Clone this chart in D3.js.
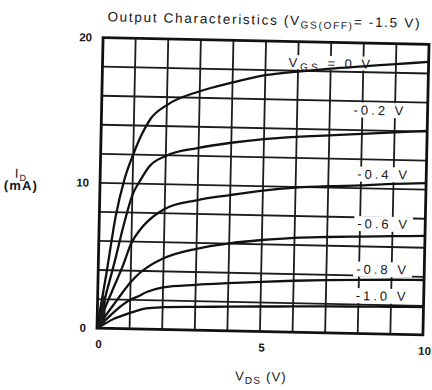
<!DOCTYPE html>
<html lang="en">
<head>
<meta charset="UTF-8" />
<title>Output Characteristics</title>
<script src="https://d3js.org/d3.v7.min.js"></script>
<style>
  body { margin: 0; background: #fff; }
  svg { display: block; }
  text { font-family: "Liberation Sans", Arial, sans-serif; fill: #151515; }
  .tick-label { font-size: 11.5px; font-weight: bold; }
  .curve-label { font-size: 13px; letter-spacing: 3px; }
  .title { font-size: 13.5px; letter-spacing: 1.7px; }
  .axis-title { font-size: 13px; letter-spacing: 1.2px; }
</style>
</head>
<body>
<div id="chart"></div>
<script>
// drain voltage samples (V)
const vds = [0, 0.25, 0.5, 0.75, 1, 1.25, 1.5, 2, 3, 4, 5, 6, 7, 8, 9, 10];

// drain current (mA) for each gate voltage
const idVgs0   = [0, 3.7, 7.7, 10.3, 12.0, 13.4, 14.45, 15.45, 16.45, 17.1, 17.65, 17.95, 18.2, 18.4, 18.6, 18.8];
const idVgsM02 = [0, 2.3, 4.6, 7.1, 9.2, 10.3, 11.2, 11.95, 12.55, 12.95, 13.25, 13.45, 13.6, 13.75, 13.9, 14.05];
const idVgsM04 = [0, 1.5, 2.9, 4.3, 5.9, 6.8, 7.45, 8.3, 8.95, 9.35, 9.7, 9.95, 10.1, 10.2, 10.35, 10.45];
const idVgsM06 = [0, 0.85, 1.65, 2.45, 3.2, 3.8, 4.25, 4.9, 5.6, 6.02, 6.3, 6.5, 6.6, 6.68, 6.75, 6.82];
const idVgsM08 = [0, 0.55, 1.1, 1.6, 2.0, 2.25, 2.55, 2.9, 3.12, 3.28, 3.42, 3.54, 3.63, 3.7, 3.75, 3.78];
const idVgsM10 = [0, 0.32, 0.65, 0.88, 1.09, 1.28, 1.42, 1.53, 1.6, 1.66, 1.72, 1.77, 1.82, 1.86, 1.89, 1.92];

const seriesIds = [idVgs0, idVgsM02, idVgsM04, idVgsM06, idVgsM08, idVgsM10];
const curveLabels = ["-0.2 V", "-0.4 V", "-0.6 V", "-0.8 V", "-1.0 V"];
const xTicks = [0, 5, 10];
const yTicks = [0, 10, 20];

const width = 432, height = 390;
const plotLeft = 100, plotRight = 426, plotTop = 41, plotBottom = 331.5;

const svg = d3.select("#chart").append("svg")
  .attr("width", width)
  .attr("height", height);

// the scanned sheet sits slightly turned
const g = svg.append("g").attr("transform", "rotate(1.2, 262, 186)");

const x = d3.scaleLinear().domain([0, 10]).range([plotLeft, plotRight]);
const y = d3.scaleLinear().domain([0, 20]).range([plotBottom, plotTop]);

const gridG  = g.append("g");
const boxG   = g.append("g");
const curveG = g.append("g");
const textG  = g.append("g");

gridG.selectAll(".vgrid")
  .data(d3.range(1, 10))
  .join("line")
    .attr("x1", d => x(d)).attr("x2", d => x(d))
    .attr("y1", y(0)).attr("y2", y(20))
    .attr("stroke", "#1c1c1c").attr("stroke-width", 1.8);

gridG.selectAll(".hgrid")
  .data(d3.range(2, 20, 2))
  .join("line")
    .attr("x1", x(0)).attr("x2", x(10))
    .attr("y1", d => y(d)).attr("y2", d => y(d))
    .attr("stroke", "#1c1c1c").attr("stroke-width", 1.8);

gridG.append("rect")
  .attr("x", x(0)).attr("y", y(20))
  .attr("width", x(10) - x(0)).attr("height", y(0) - y(20))
  .attr("fill", "none").attr("stroke", "#111").attr("stroke-width", 2.8);

// curves
const line = d3.line()
  .x((d, i) => x(vds[i]))
  .y(d => y(d))
  .curve(d3.curveMonotoneX);

curveG.selectAll(".curve")
  .data(seriesIds)
  .join("path")
    .attr("d", line)
    .attr("fill", "none")
    .attr("stroke", "#111")
    .attr("stroke-width", 2.3);

// dark blob where the curves meet at the origin
svg.append("defs").append("clipPath").attr("id", "origin-clip")
  .append("rect")
    .attr("x", x(0) - 3).attr("y", y(2.2))
    .attr("width", x(0.3) - x(0) + 3).attr("height", y(0) - y(2.2) + 3);

const blob = d3.area()
  .x((d, i) => x(vds[i]))
  .y0((d, i) => y(idVgsM10[i]))
  .y1(d => y(d));

curveG.append("path")
  .attr("d", blob(idVgs0.slice(0, 2)))
  .attr("clip-path", "url(#origin-clip)")
  .attr("fill", "#1a1a1a");

// curve labels sit on white patches that cut the grid
function withBox(t, lx, ly, padX, below) {
  const w = t.node().getComputedTextLength();
  boxG.append("rect")
    .attr("x", lx - padX).attr("y", ly - 12)
    .attr("width", w + 2 * padX).attr("height", 12 + below)
    .attr("fill", "#ffffff");
}

const vgs0X = 286, vgs0Y = 66.5;
const vgs0Label = textG.append("text")
  .attr("class", "curve-label")
  .attr("x", vgs0X).attr("y", vgs0Y);
vgs0Label.append("tspan").text("V");
vgs0Label.append("tspan").attr("font-size", 10).attr("dy", 3).text("GS");
vgs0Label.append("tspan").attr("dy", -3).text(" = 0 V");
withBox(vgs0Label, vgs0X, vgs0Y, 2, 2);

const labelY = [112.5, 176.5, 226, 271.5, 298];
const labelX = [352, 357, 358, 358, 358];
curveLabels.forEach((s, i) => {
  const t = textG.append("text")
    .attr("class", "curve-label")
    .attr("x", labelX[i]).attr("y", labelY[i])
    .text(s);
  withBox(t, labelX[i], labelY[i], 3, 3);
});

// ticks
textG.selectAll(".ytick")
  .data(yTicks)
  .join("text")
    .attr("class", "tick-label")
    .attr("x", plotLeft - 11)
    .attr("y", d => y(d) + 1)
    .attr("text-anchor", "end")
    .attr("dominant-baseline", "middle")
    .text(d => d);

textG.selectAll(".xtick")
  .data(xTicks)
  .join("text")
    .attr("class", "tick-label")
    .attr("x", d => x(d) + 2)
    .attr("y", plotBottom + 20)
    .attr("text-anchor", "middle")
    .text(d => d);

// title
const title = textG.append("text")
  .attr("class", "title")
  .attr("x", 104).attr("y", 24.5);
title.append("tspan").text("Output Characteristics (V");
title.append("tspan").attr("font-size", 10).attr("dy", 3).text("GS(OFF)");
title.append("tspan").attr("dy", -3).text("= -1.5 V)");

// axis titles
const yt = textG.append("text")
  .attr("class", "axis-title")
  .attr("x", 21).attr("y", 183)
  .attr("text-anchor", "middle");
yt.append("tspan").text("I");
yt.append("tspan").attr("font-size", 9).attr("dy", 3).text("D");

textG.append("text")
  .attr("class", "axis-title")
  .attr("x", 21).attr("y", 195)
  .attr("text-anchor", "middle")
  .attr("font-weight", "bold")
  .attr("letter-spacing", 0.8)
  .text("(mA)");

const xt = textG.append("text")
  .attr("class", "axis-title")
  .attr("x", 265).attr("y", 381)
  .attr("text-anchor", "middle");
xt.append("tspan").text("V");
xt.append("tspan").attr("font-size", 10).attr("dy", 3).text("DS");
xt.append("tspan").attr("dy", -3).text(" (V)");
</script>
</body>
</html>
